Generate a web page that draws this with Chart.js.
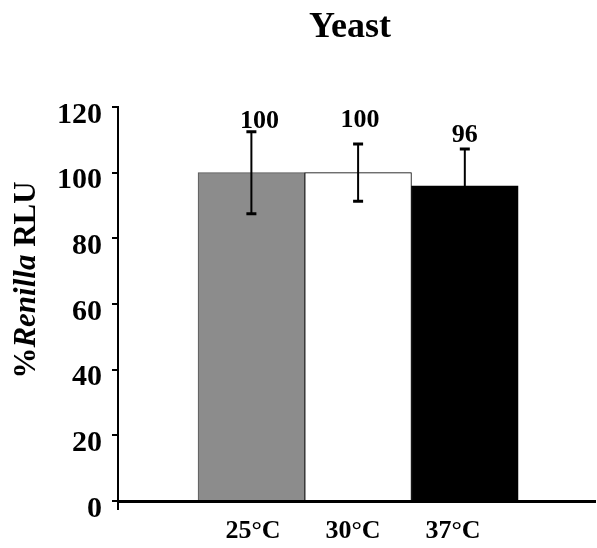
<!DOCTYPE html>
<html><head><meta charset="utf-8">
<script src="https://cdn.jsdelivr.net/npm/chart.js@4/dist/chart.umd.min.js"></script>
<style>html,body{margin:0;padding:0;background:#fff}#wrap{width:597px;height:548px}</style>
</head><body><div id="wrap"><canvas id="c" width="597" height="548"></canvas></div>
<script>
const categories = ['25°C', '30°C', '37°C'];
const values = [100, 100, 96];
const errors = [12.5, 8.7, 11.2];
const yTicks = [0, 20, 40, 60, 80, 100, 120];
const chartTitle = 'Yeast';
const yTitleParts = [['%', 'bold '], ['Renilla', 'italic bold '], [' RLU', 'bold ']];
const barColors = ['#8c8c8c', '#ffffff', '#000000'];
const barBorders = ['#555555', '#000000', '#000000'];

const SERIF = '"Liberation Serif", "Times New Roman", serif';

const extras = {
  id: 'extras',
  afterDatasetsDraw(chart) {
    const ctx = chart.ctx;
    const xs = chart.scales.x, ys = chart.scales.y;
    const o = chart.options.plugins.extras;
    ctx.save();
    ctx.strokeStyle = '#000';
    values.forEach((v, i) => {
      const x = xs.getPixelForValue(i + 1);
      const top = ys.getPixelForValue(v + errors[i]);
      const bot = ys.getPixelForValue(v - errors[i]);
      ctx.lineWidth = 2;
      ctx.beginPath(); ctx.moveTo(x, top); ctx.lineTo(x, bot); ctx.stroke();
      ctx.lineWidth = 3;
      ctx.beginPath();
      ctx.moveTo(x - 5, top); ctx.lineTo(x + 5, top);
      ctx.moveTo(x - 5, bot); ctx.lineTo(x + 5, bot);
      ctx.stroke();
      ctx.fillStyle = '#000';
      ctx.font = 'bold 26px ' + SERIF;
      ctx.textAlign = 'center';
      ctx.textBaseline = 'alphabetic';
      ctx.fillText(String(v), x + o.labelDx[i], top + o.labelDy[i]);
    });
    ctx.lineWidth = 2;
    ctx.beginPath();
    ctx.moveTo(chart.chartArea.left, chart.chartArea.bottom);
    ctx.lineTo(chart.chartArea.left, chart.chartArea.bottom + 9);
    ctx.stroke();
    ctx.font = 'bold 36px ' + SERIF;
    ctx.textAlign = 'center';
    ctx.textBaseline = 'alphabetic';
    ctx.fillText(chartTitle, o.titleX, o.titleY);
    ctx.translate(o.yTitleX, o.yTitleY);
    ctx.rotate(-Math.PI / 2);
    let total = 0;
    yTitleParts.forEach(([t, s]) => { ctx.font = s + '31px ' + SERIF; total += ctx.measureText(t).width; });
    let cx = -total / 2;
    ctx.textAlign = 'left';
    yTitleParts.forEach(([t, s]) => {
      ctx.font = s + '31px ' + SERIF;
      ctx.fillText(t, cx, 0);
      cx += ctx.measureText(t).width;
    });
    ctx.restore();
  }
};

new Chart(document.getElementById('c'), {
  type: 'bar',
  data: {
    datasets: [{
      data: values.map((v, i) => ({ x: i + 1, y: v })),
      backgroundColor: barColors,
      borderColor: barBorders,
      borderWidth: 1,
      barPercentage: 1,
      categoryPercentage: 1,
      xAxisID: 'x', yAxisID: 'y'
    }]
  },
  options: {
    responsive: false,
    devicePixelRatio: 1,
    animation: false,
    layout: { padding: { top: 107, left: 0, right: 2, bottom: 0 } },
    plugins: {
      legend: { display: false },
      tooltip: { enabled: false },
      title: { display: false },
      extras: { titleX: 350, titleY: 37, yTitleX: 35, yTitleY: 280, labelDx: [8, 2, 0], labelDy: [-4, -17, -7] }
    },
    scales: {
      x: {
        type: 'linear', display: false, offset: false, min: -0.25, max: 4.22,
        afterBuildTicks: s => { s.ticks = [{ value: 1 }, { value: 2 }, { value: 3 }]; }
      },
      xl: {
        type: 'linear', position: 'bottom', offset: false, min: -0.35, max: 4.42,
        afterBuildTicks: s => { s.ticks = categories.map((c, i) => ({ value: i + 1 })); },
        afterFit: s => { s.height = 47; },
        grid: { display: false, offset: false },
        border: { display: true, color: '#000', width: 3 },
        ticks: {
          autoSkip: false, maxRotation: 0, padding: 7, color: '#000',
          font: { family: SERIF, size: 26, weight: 'bold' },
          callback: v => categories[v - 1]
        }
      },
      y: {
        type: 'linear', min: 0, max: 120,
        afterBuildTicks: s => { s.ticks = yTicks.map(v => ({ value: v })); },
        afterFit: s => { s.width = 118; },
        grid: { drawOnChartArea: false, drawTicks: true, tickLength: 6, color: '#000', lineWidth: 2 },
        border: { display: true, color: '#000', width: 2 },
        ticks: { padding: 10, labelOffset: 8, color: '#000', font: { family: SERIF, size: 30, weight: 'bold' } }
      }
    }
  },
  plugins: [extras]
});
</script></body></html>
